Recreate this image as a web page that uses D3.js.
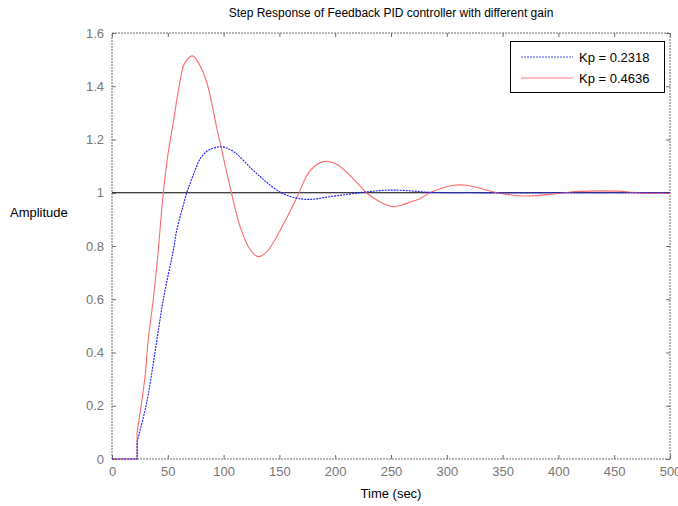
<!DOCTYPE html>
<html><head><meta charset="utf-8">
<script src="https://cdn.jsdelivr.net/npm/d3@7/dist/d3.min.js"></script>
<style>
body{margin:0;background:#fff;}
text{font-family:Arial,"Liberation Sans",sans-serif;}
</style></head>
<body><svg id="c" width="678" height="506"></svg>
<script>
const xTicks = [0,50,100,150,200,250,300,350,400,450,500];
const yTicks = [0,0.2,0.4,0.6,0.8,1,1.2,1.4,1.6];
const yTickLabels = ["0","0.2","0.4","0.6","0.8","1","1.2","1.4","1.6"];

const seriesNames = ["Kp = 0.2318","Kp = 0.4636"];

const timeBlue = [0,22.5,22.5,31,38.5,46,55,58,63,67,70,75,79,84,88,97,104,112,124,133,139,150,162,177,195,213,228,240,252,265,276,290,320,360,400,450,500];
const ampBlue  = [0,0,0.065,0.21,0.40,0.60,0.785,0.86,0.94,1.0,1.035,1.09,1.128,1.152,1.163,1.173,1.166,1.145,1.094,1.06,1.038,1.004,0.983,0.975,0.985,0.995,1.003,1.008,1.01,1.008,1.004,1.001,1.0,0.999,1.0,1.0,1.0];

const timeRed = [0,22.5,22.5,29.6,32.5,37,41.5,43,46,50,55,60,65,72,78,85,94,107,115,124,131,139,154,166,177,189,201,219,228,240,252,264,276,285,306,318,345,368,390,419,452,473,500];
const ampRed  = [0,0,0.1,0.31,0.45,0.6,0.785,0.86,1.0,1.14,1.267,1.395,1.486,1.514,1.484,1.413,1.242,1.0,0.87,0.785,0.76,0.78,0.885,0.985,1.08,1.117,1.108,1.04,1.0,0.966,0.948,0.96,0.978,1.0,1.028,1.028,1.0,0.988,0.993,1.005,1.006,0.999,0.998];

const refLevel = [1];

const svg = d3.select("#c");
const L=112, R=670, T=33, B=459;
const x = d3.scaleLinear().domain([0,500]).range([L,R]);
const y = d3.scaleLinear().domain([0,1.6]).range([B,T]);
const axisCol = "#6e6e6e", labCol = "#777";

// box
const g = svg.append("g");
g.append("rect").attr("x",L).attr("y",T).attr("width",R-L).attr("height",B-T)
 .attr("fill","#fff").attr("stroke",axisCol).attr("stroke-width",1).attr("stroke-dasharray","2,1");

// axes (ticks inside)
const fmt = d => yTickLabels[yTicks.indexOf(d)];
const axB = g.append("g").attr("transform",`translate(0,${B})`)
  .call(d3.axisBottom(x).tickValues(xTicks).tickSize(-4).tickPadding(8));
const axT = g.append("g").attr("transform",`translate(0,${T})`)
  .call(d3.axisTop(x).tickValues(xTicks).tickSize(-4).tickFormat(""));
const axL = g.append("g").attr("transform",`translate(${L},0)`)
  .call(d3.axisLeft(y).tickValues(yTicks).tickSize(-4).tickPadding(8).tickFormat(fmt));
const axR = g.append("g").attr("transform",`translate(${R},0)`)
  .call(d3.axisRight(y).tickValues(yTicks).tickSize(-4).tickFormat(""));
[axB,axT,axL,axR].forEach(a=>{
  a.select(".domain").remove();
  a.selectAll(".tick line").attr("stroke",axisCol);
  a.selectAll(".tick text").attr("fill",labCol).style("font-size","13px")
   .style("font-family","Arial, 'Liberation Sans', sans-serif");
});

// reference line at 1
g.selectAll("line.ref").data(refLevel).enter().append("line").attr("class","ref")
  .attr("x1",L).attr("x2",R).attr("y1",d=>y(d)).attr("y2",d=>y(d))
  .attr("stroke","#000").attr("stroke-width",1);

const lineLin = d3.line().x(d=>x(d[0])).y(d=>y(d[1]));
const lineSm = d3.line().x(d=>x(d[0])).y(d=>y(d[1])).curve(d3.curveCatmullRom.alpha(0.5));
const pathD = data => lineLin(data.slice(0,3)) + lineSm(data.slice(2)).replace(/^M[^C L]*/, m => "L" + m.slice(1));
const redData = timeRed.map((t,i)=>[t,ampRed[i]]);
const blueData = timeBlue.map((t,i)=>[t,ampBlue[i]]);
g.append("path").datum(redData).attr("d",pathD).attr("fill","none")
  .attr("stroke","#ff6a6a").attr("stroke-width",1.1);
g.append("path").datum(blueData).attr("d",pathD).attr("fill","none")
  .attr("stroke","#1a1aff").attr("stroke-width",1.1).attr("stroke-dasharray","2,1");

// labels
svg.append("text").attr("x",(L+R)/2).attr("y",17).attr("text-anchor","middle")
  .style("font-size","12px").attr("fill","#000")
  .text("Step Response of Feedback PID controller with different gain");
svg.append("text").attr("x",(L+R)/2).attr("y",498).attr("text-anchor","middle")
  .style("font-size","13px").attr("fill","#000").text("Time (sec)");
svg.append("text").attr("x",10).attr("y",217).attr("text-anchor","start")
  .style("font-size","13px").attr("fill","#000").text("Amplitude");

// legend
const lg = svg.append("g");
lg.append("rect").attr("x",510.5).attr("y",41.5).attr("width",154).attr("height",51)
  .attr("fill","#fff").attr("stroke","#000").attr("stroke-width",1);
const cols = ["#4d4dff","#ff7a7a"];
seriesNames.forEach((n,i)=>{
  const yy = 57 + i*21;
  lg.append("line").attr("x1",521).attr("x2",573).attr("y1",yy).attr("y2",yy)
    .attr("stroke",cols[i]).attr("stroke-width",1).attr("stroke-dasharray",i===0?"2,1":null);
  lg.append("text").attr("x",579).attr("y",yy+5).style("font-size","13px").attr("fill","#000").text(n);
});
</script></body></html>
